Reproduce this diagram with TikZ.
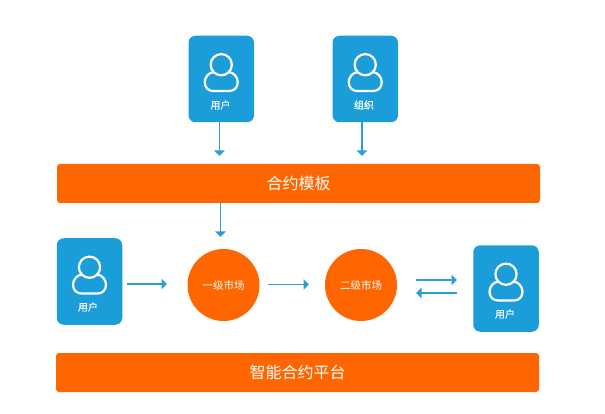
\documentclass[tikz,border=0pt]{standalone}
\usepackage{fontspec}
\usepackage{xcolor}
\usetikzlibrary{arrows.meta}
\setmainfont{Noto Sans CJK SC}
\newfontfamily\cardfont[FakeBold=0.6]{Noto Sans CJK SC}

\definecolor{cardblue}{HTML}{1B9DD9}
\definecolor{linkblue}{HTML}{2A9FD6}
\definecolor{barorange}{HTML}{FF6600}

\tikzset{
	cardbox/.style={fill=cardblue,rounded corners=7pt,minimum width=65.5pt,minimum height=86.5pt,inner sep=0pt},
	cardtext/.style={text=white,inner sep=0pt,font=\cardfont\fontsize{10}{12}\selectfont},
	barbox/.style={fill=barorange,rounded corners=3pt,minimum width=483pt,minimum height=39pt,inner sep=0pt,text=white,font=\fontsize{16}{19}\selectfont},
	marketdot/.style={circle,fill=barorange,minimum size=72pt,inner sep=0pt,text=white,font=\fontsize{10.5}{12}\selectfont},
	flow/.style={draw=linkblue,line width=1.6pt,-{Triangle[length=5.5pt,width=10.5pt]}},
	person/.pic={
		\draw[white,line width=2.2pt] (0,-14.3) circle (10.6);
		\draw[white,line width=2.2pt,line join=round] (-7.5,-6.8) .. controls (-12,-7) and (-16.5,-2) .. (-16.5,3)
			.. controls (-16.5,9) and (-12.5,12) .. (-8,12) -- (8,12)
			.. controls (12.5,12) and (16.5,9) .. (16.5,3) .. controls (16.5,-2) and (12,-7) .. (7.5,-6.8);
	}
}

\begin{document}
\begin{tikzpicture}[x=1pt,y=-1pt]
	\useasboundingbox (0,0) rectangle (605,414);

	\node[barbox] (barTemplate) at (298.5,183.5) {合约模板};
	\node[barbox] (barPlatform) at (297.5,372.5) {智能合约平台};

	\node[cardbox] (userTop) at (221.25,79) {};
	\node[cardbox] (orgTop) at (365.25,79) {};
	\node[cardbox] (userLeft) at (89.5,281.5) {};
	\node[cardbox] (userRight) at (506,288.5) {};

	\pic at (userTop) {person};
	\pic at (orgTop) {person};
	\pic at (userLeft) {person};
	\pic at (userRight) {person};

	\node[cardtext] (userTopText) at (220.5,105) {用户};
	\node[cardtext] (orgTopText) at (364,105) {组织};
	\node[cardtext] (userLeftText) at (88,307) {用户};
	\node[cardtext] (userRightText) at (505,314) {用户};

	\node[marketdot] (marketOne) at (223.5,285) {一级市场};
	\node[marketdot] (marketTwo) at (361,285) {二级市场};

	% arrow tips
	\coordinate (tipUser) at (219.5,156);
	\coordinate (tipOrg) at (362,156);
	\coordinate (tipTemplate) at (220.5,237);
	\coordinate (tipLeft) at (167,284);
	\coordinate (tipOne) at (309,284.5);
	\coordinate (tipOut) at (457,280);
	\coordinate (tipBack) at (416,293);

	\draw[flow] (userTop.south -| tipUser) -- (tipUser);
	\draw[flow] (orgTop.south -| tipOrg) -- (tipOrg);
	\draw[flow] (barTemplate.south -| tipTemplate) -- (tipTemplate);
	\draw[flow,shorten <=5pt] (userLeft.east |- tipLeft) -- (tipLeft);
	\draw[flow,shorten <=8.5pt] (marketOne.east |- tipOne) -- (tipOne);
	\draw[flow,shorten <=19pt] (marketTwo.east |- tipOut) -- (tipOut);
	\draw[flow,shorten <=16pt] (userRight.west |- tipBack) -- (tipBack);
\end{tikzpicture}
\end{document}
